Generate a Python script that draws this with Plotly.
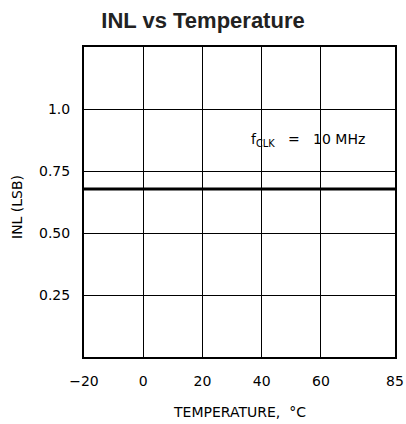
import plotly.graph_objects as go

temperature = [-20, 0, 20, 40, 60, 85]
inl_lsb = [0.677, 0.677, 0.677, 0.677, 0.677, 0.677]

x_ticks = [-20, 0, 20, 40, 60, 85]
x_labels = ["\u221220", "0", "20", "40", "60", "85"]
y_ticks = [0.25, 0.5, 0.75, 1.0]
y_labels = ["0.25", "0.50", "0.75", "1.0"]

tick_font = dict(family="DejaVu Sans", size=14, color="black")
NB = "\u00a0"

L, R, T, B = 84, 395, 47, 357
PW, PH = R - L, B - T

fig = go.Figure()
fig.add_trace(go.Scatter(x=temperature, y=inl_lsb, mode="lines",
                         line=dict(color="black", width=3), showlegend=False))

fig.update_layout(
    width=406, height=424, autosize=False,
    margin=dict(l=L, r=406 - R, t=T, b=424 - B, pad=0),
    paper_bgcolor="white", plot_bgcolor="white",
    title=dict(text="<b>INL vs Temperature</b>", x=0.5, xanchor="center",
               y=1 - 20 / 424, yanchor="middle",
               font=dict(family="Liberation Sans", size=22, color="#222")),
    xaxis=dict(range=[-20, 85], tickvals=x_ticks, ticktext=x_labels,
               showgrid=True, gridcolor="black", gridwidth=1,
               showline=True, linecolor="black", linewidth=2, mirror=True,
               ticks="", tickfont=tick_font, zeroline=False,
               ticklabelstandoff=10, automargin=False),
    yaxis=dict(range=[0, 1.25], tickvals=y_ticks, ticktext=y_labels,
               showgrid=True, gridcolor="black", gridwidth=1,
               showline=True, linecolor="black", linewidth=2, mirror=True,
               ticks="", tickfont=tick_font, zeroline=False,
               ticklabelstandoff=9, automargin=False),
    annotations=[
        dict(text="TEMPERATURE," + NB + NB + "\u00b0C", xref="paper", yref="paper",
             x=0.5, y=-(412 - B) / PH, xanchor="center", yanchor="middle",
             showarrow=False, font=tick_font),
        dict(text="INL" + NB + "(LSB)", xref="paper", yref="paper", textangle=-90,
             x=-(L - 17) / PW, y=(B - 207) / PH, xanchor="center", yanchor="middle",
             showarrow=False, font=tick_font),
        dict(text="f<sub>CLK</sub>" + NB * 3 + "=" + NB * 3 + "10" + NB + "MHz",
             xref="paper", yref="paper",
             x=(308 - L) / PW, y=(B - 140) / PH, xanchor="center", yanchor="middle",
             showarrow=False, font=tick_font),
    ],
)

fig.write_html("out.html")
